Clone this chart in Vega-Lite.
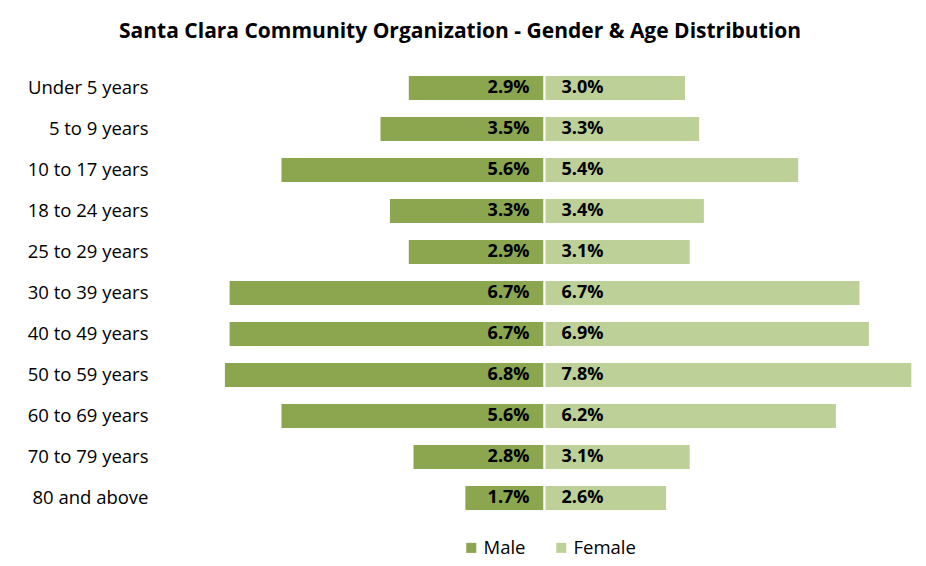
{
  "$schema": "https://vega.github.io/schema/vega-lite/v6.json",
  "autosize": {"type": "none"},
  "padding": {"left": 160, "top": 67.5, "right": 0, "bottom": 47.5},
  "width": 766,
  "height": 451,
  "background": "white",
  "title": {
    "text": "Santa Clara Community Organization - Gender & Age Distribution",
    "font": "Open Sans",
    "fontSize": 21,
    "fontWeight": "bold",
    "color": "#000000",
    "anchor": "middle",
    "dx": -83,
    "offset": 26
  },
  "config": {
    "font": "Open Sans",
    "view": {"stroke": null}
  },
  "data": {
    "values": [
      {"age": "Under 5 years", "gender": "Male", "share": -2.9, "label": "2.9%"},
      {"age": "Under 5 years", "gender": "Female", "share": 3.0, "label": "3.0%"},
      {"age": "5 to 9 years", "gender": "Male", "share": -3.5, "label": "3.5%"},
      {"age": "5 to 9 years", "gender": "Female", "share": 3.3, "label": "3.3%"},
      {"age": "10 to 17 years", "gender": "Male", "share": -5.6, "label": "5.6%"},
      {"age": "10 to 17 years", "gender": "Female", "share": 5.4, "label": "5.4%"},
      {"age": "18 to 24 years", "gender": "Male", "share": -3.3, "label": "3.3%"},
      {"age": "18 to 24 years", "gender": "Female", "share": 3.4, "label": "3.4%"},
      {"age": "25 to 29 years", "gender": "Male", "share": -2.9, "label": "2.9%"},
      {"age": "25 to 29 years", "gender": "Female", "share": 3.1, "label": "3.1%"},
      {"age": "30 to 39 years", "gender": "Male", "share": -6.7, "label": "6.7%"},
      {"age": "30 to 39 years", "gender": "Female", "share": 6.7, "label": "6.7%"},
      {"age": "40 to 49 years", "gender": "Male", "share": -6.7, "label": "6.7%"},
      {"age": "40 to 49 years", "gender": "Female", "share": 6.9, "label": "6.9%"},
      {"age": "50 to 59 years", "gender": "Male", "share": -6.8, "label": "6.8%"},
      {"age": "50 to 59 years", "gender": "Female", "share": 7.8, "label": "7.8%"},
      {"age": "60 to 69 years", "gender": "Male", "share": -5.6, "label": "5.6%"},
      {"age": "60 to 69 years", "gender": "Female", "share": 6.2, "label": "6.2%"},
      {"age": "70 to 79 years", "gender": "Male", "share": -2.8, "label": "2.8%"},
      {"age": "70 to 79 years", "gender": "Female", "share": 3.1, "label": "3.1%"},
      {"age": "80 and above", "gender": "Male", "share": -1.7, "label": "1.7%"},
      {"age": "80 and above", "gender": "Female", "share": 2.6, "label": "2.6%"}
    ]
  },
  "encoding": {
    "y": {
      "field": "age",
      "type": "nominal",
      "sort": null,
      "title": null,
      "scale": {"paddingInner": 0.37, "paddingOuter": 0.185},
      "axis": {
        "domain": false,
        "ticks": false,
        "grid": false,
        "labelPadding": 12,
        "labelFont": "Open Sans",
        "labelFontSize": 18.5,
        "labelColor": "#000000",
        "minExtent": 150,
        "maxExtent": 150
      }
    }
  },
  "layer": [
    {
      "mark": {"type": "bar", "stroke": "white", "strokeWidth": 2},
      "encoding": {
        "x": {
          "field": "share",
          "type": "quantitative",
          "scale": {"domain": [-8.155, 8.09], "nice": false, "zero": false},
          "axis": null
        },
        "color": {
          "field": "gender",
          "type": "nominal",
          "scale": {"domain": ["Male", "Female"], "range": ["#8BA64F", "#BCD098"]},
          "legend": {
            "title": null,
            "orient": "none",
            "direction": "horizontal",
            "legendX": 302,
            "legendY": 471,
            "symbolType": "square",
            "symbolSize": 100,
            "symbolStrokeWidth": 0,
            "labelFont": "Open Sans",
            "labelFontSize": 18.5,
            "labelColor": "#000000",
            "columnPadding": 26,
            "labelOffset": 3
          }
        }
      }
    },
    {
      "transform": [{"filter": "datum.gender === 'Male'"}],
      "mark": {"type": "text", "align": "right", "baseline": "middle", "dx": -15, "fontWeight": "bold", "fontSize": 18, "font": "Open Sans", "color": "#000000"},
      "encoding": {
        "x": {"datum": 0, "type": "quantitative"},
        "text": {"field": "label"}
      }
    },
    {
      "transform": [{"filter": "datum.gender === 'Female'"}],
      "mark": {"type": "text", "align": "left", "baseline": "middle", "dx": 17, "fontWeight": "bold", "fontSize": 18, "font": "Open Sans", "color": "#000000"},
      "encoding": {
        "x": {"datum": 0, "type": "quantitative"},
        "text": {"field": "label"}
      }
    },
    {
      "mark": {"type": "rule", "color": "#8C8C8C", "strokeWidth": 1.5},
      "encoding": {
        "x": {"datum": 0, "type": "quantitative"}
      }
    }
  ]
}
